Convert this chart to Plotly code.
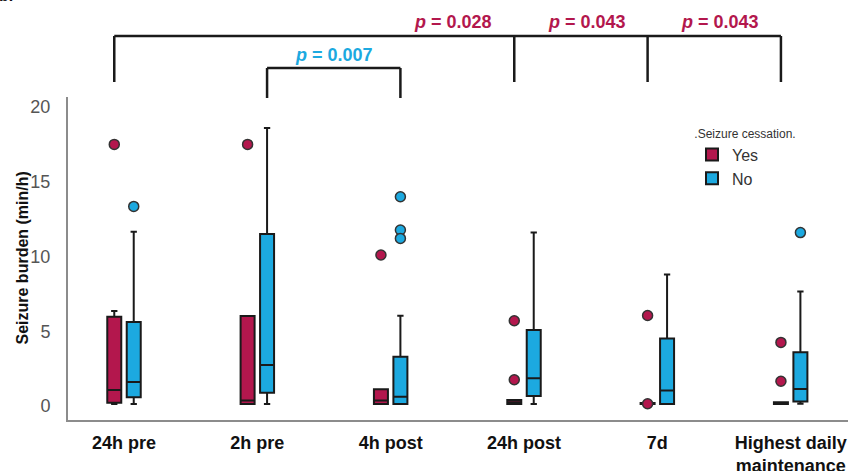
import plotly.graph_objects as go

# ---------------- data ----------------
categories = ["24h pre", "2h pre", "4h post", "24h post", "7d", "Highest daily<br>maintenance"]
groups = ["Yes", "No"]

yes_lower = [0.13, 0.13, 0.13, 0.13, 0.13, 0.13]
yes_q1 = [0.22, 0.13, 0.13, 0.13, 0.13, 0.13]
yes_median = [1.07, 0.36, 0.36, 0.25, 0.13, 0.20]
yes_q3 = [5.97, 6.02, 1.11, 0.40, 0.20, 0.25]
yes_upper = [6.35, 6.02, 1.11, 0.40, 0.20, 0.25]
yes_outliers = [[17.5], [17.5], [10.1], [5.7, 1.75], [6.05, 0.15], [4.25, 1.65]]

no_lower = [0.13, 0.13, 0.13, 0.13, 0.13, 0.15]
no_q1 = [0.58, 0.89, 0.13, 0.67, 0.13, 0.29]
no_median = [1.60, 2.74, 0.62, 1.85, 1.03, 1.14]
no_q3 = [5.62, 11.5, 3.30, 5.08, 4.52, 3.59]
no_upper = [11.66, 18.6, 6.04, 11.6, 8.8, 7.65]
no_outliers = [[13.35], [], [14.0, 11.77, 11.21], [], [], [11.6]]

y_ticks = [0, 5, 10, 15, 20]

# comparisons
outer_bracket_points = [(0, "Yes"), (3, "Yes"), (4, "Yes"), (5, "Yes")]
outer_p_labels = ["0.028", "0.043", "0.043"]
inner_bracket = [(1, "No"), (2, "No")]
inner_p_label = "0.007"

# ---------------- style ----------------
RED = "#B3174D"
BLUE = "#1CA9E0"
OFF = 0.073
BOX_W = 0.105
FONT = "Liberation Sans, Arial, sans-serif"
NARROW = "Liberation Sans Narrow, Arial Narrow, Liberation Sans, Arial, sans-serif"

n = len(categories)
offset = {"Yes": -OFF, "No": OFF}


def xpos(i, g):
    return i + offset[g]


fig = go.Figure()

for g, color, lo, q1, med, q3, hi, outs in [
    ("Yes", RED, yes_lower, yes_q1, yes_median, yes_q3, yes_upper, yes_outliers),
    ("No", BLUE, no_lower, no_q1, no_median, no_q3, no_upper, no_outliers),
]:
    fig.add_trace(go.Box(
        name=g,
        x=[xpos(i, g) for i in range(n)],
        q1=q1, median=med, q3=q3, lowerfence=lo, upperfence=hi,
        width=BOX_W,
        fillcolor=color,
        line=dict(color="#1a1a1a", width=2),
        whiskerwidth=0.45,
        boxpoints=False,
        showlegend=True,
    ))
    ox, oy = [], []
    for i, vals in enumerate(outs):
        for v in vals:
            ox.append(xpos(i, g))
            oy.append(v)
    fig.add_trace(go.Scatter(
        x=ox, y=oy, mode="markers", showlegend=False,
        marker=dict(size=10, color=color, line=dict(color="#333333", width=1.5)),
    ))

# ---------------- brackets ----------------
def y_paper(px):
    return (420 - px) / 323.0

LINE = dict(color="#1a1a1a", width=2.5)
outer_x = [xpos(i, g) for i, g in outer_bracket_points]
fig.add_shape(type="line", xref="x", yref="paper", x0=outer_x[0], x1=outer_x[-1],
              y0=y_paper(36), y1=y_paper(36), line=LINE)
for xv in outer_x:
    fig.add_shape(type="line", xref="x", yref="paper", x0=xv, x1=xv,
                  y0=y_paper(36), y1=y_paper(82), line=LINE)
for k, lab in enumerate(outer_p_labels):
    fig.add_annotation(xref="x", yref="paper", x=outer_x[k + 1], y=y_paper(22),
                       xanchor="right", yanchor="middle", xshift=-20, showarrow=False,
                       text="<b><i>p</i> = " + lab + "</b>",
                       font=dict(family=NARROW, size=18, color=RED))

inner_x = [xpos(i, g) for i, g in inner_bracket]
fig.add_shape(type="line", xref="x", yref="paper", x0=inner_x[0], x1=inner_x[1],
              y0=y_paper(68), y1=y_paper(68), line=LINE)
for xv in inner_x:
    fig.add_shape(type="line", xref="x", yref="paper", x0=xv, x1=xv,
                  y0=y_paper(68), y1=y_paper(98), line=LINE)
fig.add_annotation(xref="x", yref="paper", x=(inner_x[0] + inner_x[1]) / 2, y=y_paper(55),
                   xanchor="center", yanchor="middle", showarrow=False,
                   text="<b><i>p</i> = " + inner_p_label + "</b>",
                   font=dict(family=NARROW, size=18, color=BLUE))

# y-axis title
fig.add_annotation(xref="paper", yref="paper", x=-(68 - 22) / 780.0, y=0.5,
                   xanchor="center", yanchor="middle", showarrow=False, textangle=-90,
                   text="<b>Seizure burden (min/h)</b>",
                   font=dict(family=FONT, size=16, color="#111111"))
# panel letter (partially cut off at top-left)
fig.add_annotation(xref="paper", yref="paper", x=-(68 + 3) / 780.0, y=y_paper(6),
                   xanchor="left", yanchor="bottom", showarrow=False,
                   text="<b>b.</b>", font=dict(family=FONT, size=16, color="#111111"))

fig.update_layout(
    width=848, height=471,
    margin=dict(l=68, r=0, t=97, b=51, autoexpand=False),
    paper_bgcolor="white", plot_bgcolor="white",
    font=dict(family=FONT),
    xaxis=dict(
        range=[-0.42, 5.43], tickmode="array", tickvals=list(range(n)), ticktext=categories,
        showline=True, linecolor="#8c8c8c", linewidth=2, showgrid=False, zeroline=False,
        ticks="", ticklabelstandoff=5, automargin=False,
        tickfont=dict(family=FONT, size=18, color="#111111", weight="bold"),
    ),
    yaxis=dict(
        range=[-0.94, 20.67], tickmode="array", tickvals=y_ticks,
        showline=True, linecolor="#8c8c8c", linewidth=2, showgrid=False, zeroline=False,
        ticks="", ticklabelstandoff=12, automargin=False,
        tickfont=dict(family=FONT, size=18, color="#555555"),
    ),
    legend=dict(
        x=0.8, y=y_paper(122), xanchor="left", yanchor="top",
        bgcolor="rgba(0,0,0,0)", itemwidth=30, tracegroupgap=0,
        title=dict(text=".Seizure cessation.", side="top center",
                   font=dict(family=FONT, size=12, color="#333333")),
        font=dict(family=FONT, size=16, color="#333333"),
    ),
)

fig.write_html(
    "out.html",
    config={"displayModeBar": False},
    post_script="document.body.style.margin='0';document.body.style.padding='0';",
)
